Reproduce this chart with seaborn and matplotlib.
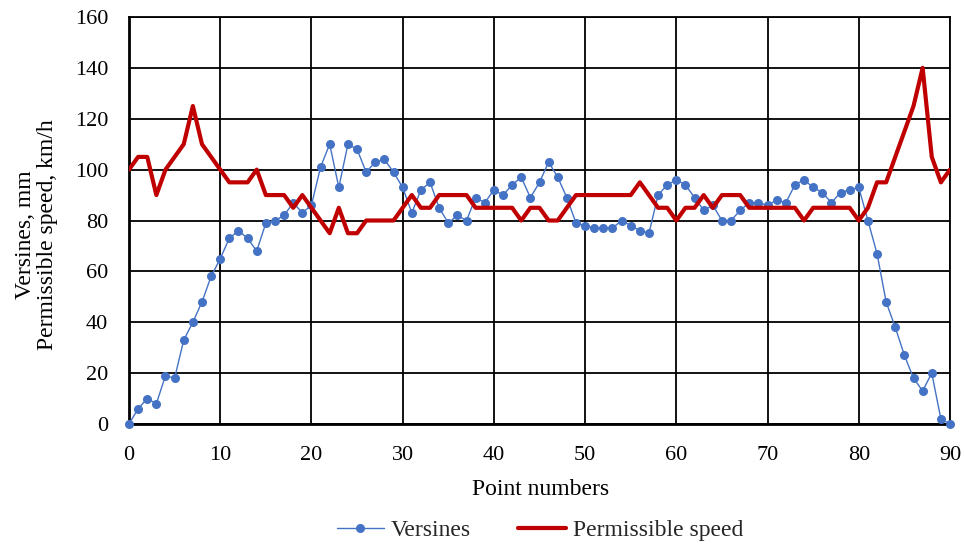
import matplotlib
matplotlib.use("Agg")
import matplotlib.pyplot as plt
import seaborn as sns
import pandas as pd

points = list(range(0, 91))
versines = [0, 6, 10, 8, 19, 18, 33, 40, 48, 58,
            65, 73, 76, 73, 68, 79, 80, 82, 87, 83,
            86, 101, 110, 93, 110, 108, 99, 103, 104, 99,
            93, 83, 92, 95, 85, 79, 82, 80, 89, 87,
            92, 90, 94, 97, 89, 95, 103, 97, 89, 79,
            78, 77, 77, 77, 80, 78, 76, 75, 90, 94,
            96, 94, 89, 84, 86, 80, 80, 84, 87, 87,
            86, 88, 87, 94, 96, 93, 91, 87, 91, 92,
            93, 80, 67, 48, 38, 27, 18, 13, 20, 2,
            0]
speed = [100, 105, 105, 90, 100, 105, 110, 125, 110, 105,
         100, 95, 95, 95, 100, 90, 90, 90, 85, 90,
         85, 80, 75, 85, 75, 75, 80, 80, 80, 80,
         85, 90, 85, 85, 90, 90, 90, 90, 85, 85,
         85, 85, 85, 80, 85, 85, 80, 80, 85, 90,
         90, 90, 90, 90, 90, 90, 95, 90, 85, 85,
         80, 85, 85, 90, 85, 90, 90, 90, 85, 85,
         85, 85, 85, 85, 80, 85, 85, 85, 85, 85,
         80, 85, 95, 95, 105, 115, 125, 140, 105, 95,
         100]
x_ticks = [0, 10, 20, 30, 40, 50, 60, 70, 80, 90]
y_ticks = [0, 20, 40, 60, 80, 100, 120, 140, 160]

df = pd.DataFrame({"Point": points, "Versines": versines, "Speed": speed})

sns.set_theme(style="white")
plt.rcParams["font.family"] = ["Liberation Serif", "DejaVu Serif"]

W, H = 964, 548
fig = plt.figure(figsize=(W / 100, H / 100), dpi=100)
L, R, T, B = 129, 950, 17, 424
ax = fig.add_axes([L / W, 1 - B / H, (R - L) / W, (B - T) / H])

sns.lineplot(data=df, x="Point", y="Versines", ax=ax, color="#4472C4",
             linewidth=1.0, marker="o", markersize=6.5, markeredgewidth=0,
             label="Versines", zorder=3, clip_on=False)
sns.lineplot(data=df, x="Point", y="Speed", ax=ax, color="#C00000",
             linewidth=3.0, label="Permissible speed", zorder=4)

ax.set_xlim(0, 90)
ax.set_ylim(0, 160)
ax.set_xticks(x_ticks)
ax.set_yticks(y_ticks)
ax.grid(True, color="black", linewidth=1.3)
ax.set_axisbelow(True)
for s in ax.spines.values():
    s.set_visible(True)
    s.set_color("black")
    s.set_linewidth(1.3)
    s.set_zorder(2)
ax.spines["left"].set_linewidth(2.0)
ax.spines["bottom"].set_linewidth(2.0)
ax.tick_params(axis="x", length=0, labelsize=16, colors="black", pad=16)
ax.tick_params(axis="y", length=0, labelsize=16, colors="black", pad=15)
ax.set_xlabel("Point numbers", fontsize=17, color="black")
ax.xaxis.set_label_coords((541 - L) / (R - L), -(500 - B) / (B - T))
ax.xaxis.label.set_va("bottom")
ax.set_ylabel("Versines, mm\nPermissible speed, km/h", fontsize=17,
              color="black", linespacing=1.05)
ax.yaxis.set_label_coords(-(L - 58) / (R - L), 0.465)

ax.get_legend().remove()
h, l = ax.get_legend_handles_labels()
fig.legend(h, l, loc="center", ncol=2, frameon=False, fontsize=17,
           bbox_to_anchor=(540 / W, 1 - 530 / H), handlelength=2.0,
           columnspacing=2.0, handletextpad=0.3)

fig.savefig("out.png", dpi=100)
